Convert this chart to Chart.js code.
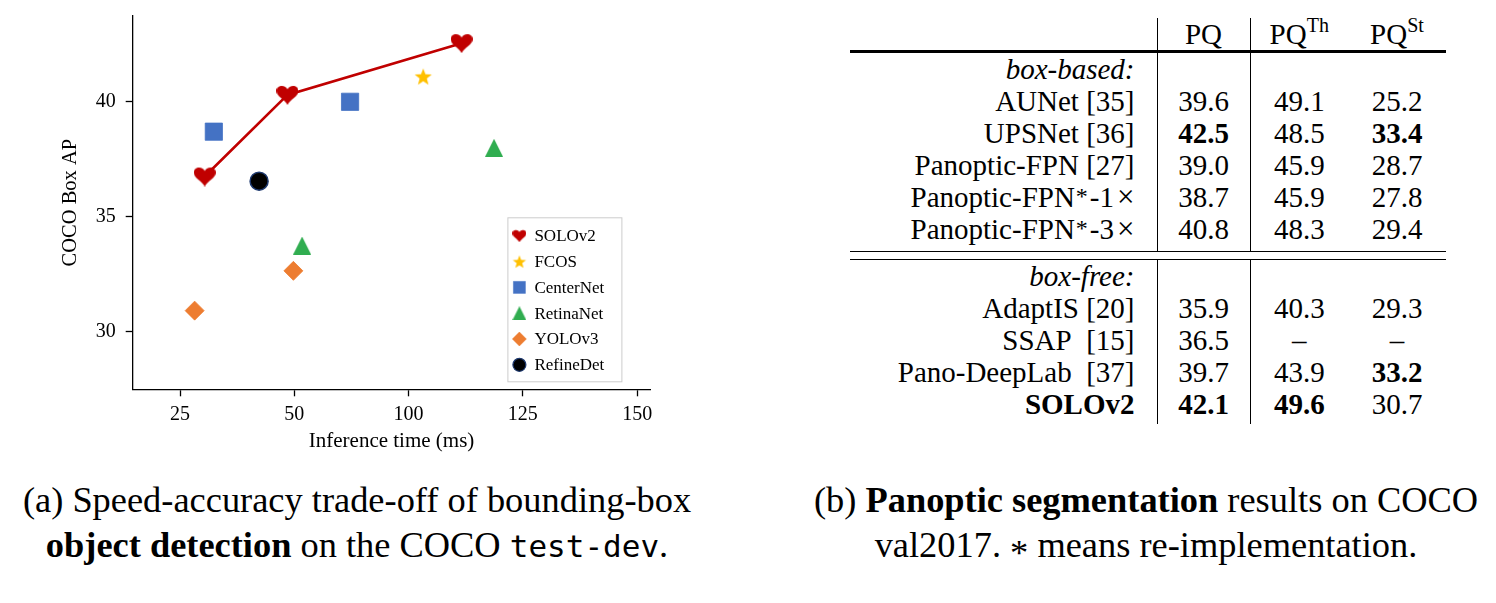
<!DOCTYPE html>
<html>
<head>
<meta charset="utf-8">
<script src="https://cdn.jsdelivr.net/npm/chart.js@4.4.1/dist/chart.umd.min.js"></script>
<style>
body { margin: 0; background: #fff; width: 1496px; height: 603px; overflow: hidden; position: relative;
       font-family: "Liberation Serif", "Times New Roman", serif; color: #000; }
#chartBox { position: absolute; left: 0; top: 0; width: 700px; height: 470px; }
.cap { position: absolute; top: 478px; font-size: 36.4px; line-height: 45px; text-align: center; white-space: nowrap; }
#capA { left: 0; width: 714px; }
#capB { left: 790px; width: 712px; }
.mono { font-family: "DejaVu Sans Mono", monospace; font-size: 31px; }
.capAst { vertical-align: -8px; line-height: 0; }
#tbl { position: absolute; left: 850px; top: 18px; border-collapse: collapse; table-layout: fixed;
       width: 596px; font-size: 29px; }
#tbl td { padding: 0; height: 32px; line-height: 32px; vertical-align: top; white-space: nowrap; }
#tbl td.c0 { text-align: right; padding-right: 22px; border-right: 1.3px solid #000; }
#tbl td.c1 { text-align: center; border-right: 1.3px solid #000; }
#tbl td.c2, #tbl td.c3 { text-align: center; }
#tbl tr.head td { border-bottom: 3px solid #000; }
#tbl tr.groupEnd td { height: 38px; border-bottom: 1.3px solid #000; }
#tbl tr.gap td { height: 6.5px; line-height: 0; border-right: none; border-bottom: 1.3px solid #000; }
#tbl tr.last td { height: 36px; }
.sup { font-size: 20px; vertical-align: 12px; line-height: 0; }
.ast { font-size: 24px; vertical-align: 3px; line-height: 0; padding: 0 2px 0 1px; }
.times { font-size: 31px; padding-left: 3px; }
</style>
</head>
<body>
<div id="chartBox"><canvas id="myChart" width="700" height="470"></canvas></div>
<table id="tbl"></table>
<div class="cap" id="capA">(a) Speed-accuracy trade-off of bounding-box<br><b>object detection</b> on the COCO <span class="mono">test-dev</span>.</div>
<div class="cap" id="capB">(b) <b>Panoptic segmentation</b> results on COCO<br>val2017. <span class="capAst">*</span> means re-implementation.</div>
<script>
// x positions are on the plot's evenly spaced axis; its tick labels read 25, 50, 100, 125, 150
var xTickValues = [25, 50, 75, 100, 125];
var xTickLabels = ['25', '50', '100', '125', '150'];
var yTickValues = [30, 35, 40];

var methods = ['SOLOv2', 'FCOS', 'CenterNet', 'RetinaNet', 'YOLOv3', 'RefineDet'];
var solov2X = [30.4, 48.5, 86.6];
var solov2Y = [36.75, 40.3, 42.55];
var fcosX = [78.2];
var fcosY = [41.1];
var centernetX = [32.4, 62.2];
var centernetY = [38.7, 40.0];
var retinanetX = [51.7, 93.7];
var retinanetY = [33.75, 38.0];
var yolov3X = [28.2, 49.8];
var yolov3Y = [30.92, 32.65];
var refinedetX = [42.3];
var refinedetY = [36.55];

// table (b)
var tableMethods = ['AUNet [35]', 'UPSNet [36]', 'Panoptic-FPN [27]', 'Panoptic-FPN*-1×', 'Panoptic-FPN*-3×',
                    'AdaptIS [20]', 'SSAP  [15]', 'Pano-DeepLab  [37]', 'SOLOv2'];
var pq   = ['39.6', '42.5', '39.0', '38.7', '40.8', '35.9', '36.5', '39.7', '42.1'];
var pqTh = ['49.1', '48.5', '45.9', '45.9', '48.3', '40.3', '–', '43.9', '49.6'];
var pqSt = ['25.2', '33.4', '28.7', '27.8', '29.4', '29.3', '–', '33.2', '30.7'];
// row-column, column 0 = method, 1 = PQ, 2 = PQ^Th, 3 = PQ^St
var boldCells = ['1-1', '1-3', '7-3', '8-0', '8-1', '8-2'];

var serif = '"Liberation Serif", "Times New Roman", serif';

function toPoints(xs, ys) {
    var pts = [];
    for (var i = 0; i < xs.length; i++) pts.push({x: xs[i], y: ys[i]});
    return pts;
}

function heartImage(w, h, color) {
    var c = document.createElement('canvas');
    c.width = w; c.height = h;
    var g = c.getContext('2d');
    g.fillStyle = color;
    g.beginPath();
    g.moveTo(w / 2, h * 0.22);
    g.bezierCurveTo(w * 0.42, -h * 0.02, 0, -h * 0.02, 0, h * 0.3);
    g.bezierCurveTo(0, h * 0.58, w * 0.38, h * 0.72, w / 2, h);
    g.bezierCurveTo(w * 0.62, h * 0.72, w, h * 0.58, w, h * 0.3);
    g.bezierCurveTo(w, -h * 0.02, w * 0.58, -h * 0.02, w / 2, h * 0.22);
    g.fill();
    return c;
}

function starImage(r, color) {
    var c = document.createElement('canvas');
    c.width = c.height = Math.ceil(r * 2 + 2);
    var g = c.getContext('2d');
    var cx = c.width / 2, cy = c.height / 2 + r * 0.1;
    g.fillStyle = color;
    g.beginPath();
    for (var i = 0; i < 10; i++) {
        var rr = i % 2 === 0 ? r : r * 0.42;
        var a = -Math.PI / 2 + i * Math.PI / 5;
        g.lineTo(cx + rr * Math.cos(a), cy + rr * Math.sin(a));
    }
    g.closePath();
    g.fill();
    return c;
}

// matplotlib style '^': as wide as it is tall
function triangleImage(s, color) {
    var c = document.createElement('canvas');
    c.width = c.height = s;
    var g = c.getContext('2d');
    g.fillStyle = color;
    g.beginPath();
    g.moveTo(s / 2, 0);
    g.lineTo(s, s);
    g.lineTo(0, s);
    g.closePath();
    g.fill();
    return c;
}

var red = '#c00000', gold = '#ffc000', blue = '#4472c4', green = '#30ad50', orange = '#ed7d31', navy = '#1f3a70';

var styles = [
    {point: heartImage(22, 20, red), legend: heartImage(14, 13, red), fill: red, stroke: red, radius: 10, lr: 7},
    {point: starImage(9, gold), legend: starImage(7, gold), fill: gold, stroke: gold, radius: 9, lr: 7},
    {point: 'rect', legend: 'rect', fill: blue, stroke: blue, radius: 12.2, lr: 8.5},
    {point: triangleImage(18, green), legend: triangleImage(14, green), fill: green, stroke: green, radius: 9, lr: 7},
    {point: 'rectRot', legend: 'rectRot', fill: orange, stroke: orange, radius: 9.5, lr: 7},
    {point: 'circle', legend: 'circle', fill: '#000', stroke: navy, radius: 9, lr: 6.5}
];

var xs = [solov2X, fcosX, centernetX, retinanetX, yolov3X, refinedetX];
var ys = [solov2Y, fcosY, centernetY, retinanetY, yolov3Y, refinedetY];

var datasets = [];
for (var i = 0; i < methods.length; i++) {
    datasets.push({
        label: methods[i],
        data: toPoints(xs[i], ys[i]),
        showLine: i === 0,
        borderColor: i === 0 ? red : styles[i].stroke,
        borderWidth: i === 0 ? 2.6 : 1,
        pointStyle: styles[i].point,
        pointRadius: styles[i].radius,
        pointHoverRadius: styles[i].radius,
        pointBackgroundColor: styles[i].fill,
        pointBorderColor: styles[i].stroke,
        pointBorderWidth: i === 5 ? 1.5 : 0.8
    });
}

var boxLegend = {
    id: 'boxLegend',
    afterDatasetsDraw: function (chart) {
        var ctx = chart.ctx, area = chart.chartArea;
        var w = 114, h = 164;
        var left = area.right - 29 - w, top = area.bottom - 8 - h;
        ctx.save();
        ctx.fillStyle = 'rgba(255,255,255,0.8)';
        ctx.fillRect(left, top, w, h);
        ctx.strokeStyle = '#cccccc';
        ctx.lineWidth = 1;
        ctx.strokeRect(left + 0.5, top + 0.5, w, h);
        ctx.font = '17px ' + serif;
        ctx.textBaseline = 'middle';
        for (var i = 0; i < methods.length; i++) {
            var y = top + 18.5 + i * 25.8;
            var s = styles[i];
            ctx.fillStyle = s.fill;
            ctx.strokeStyle = s.stroke;
            ctx.lineWidth = i === 5 ? 1.2 : 0.5;
            Chart.helpers.drawPoint(ctx, {pointStyle: s.legend, radius: s.lr, rotation: 0, borderWidth: ctx.lineWidth}, left + 12, y);
            ctx.fillStyle = '#000';
            ctx.fillText(methods[i], left + 27, y + 1);
        }
        ctx.restore();
    }
};

function createChart() {
    var ctx = document.getElementById('myChart').getContext('2d');
    new Chart(ctx, {
        type: 'scatter',
        data: {datasets: datasets},
        plugins: [boxLegend],
        options: {
            responsive: false,
            animation: false,
            layout: {padding: {left: 54, top: 16, right: 49.6, bottom: 12}},
            plugins: {legend: {display: false}, tooltip: {enabled: false}},
            scales: {
                x: {
                    type: 'linear', min: 14.65, max: 127.9,
                    afterBuildTicks: function (s) { s.ticks = xTickValues.map(function (v) { return {value: v}; }); },
                    afterFit: function (s) { s.height = 68.7; s.paddingLeft = 0; s.paddingRight = 0; },
                    ticks: {
                        callback: function (v, idx) { return xTickLabels[idx]; },
                        font: {family: serif, size: 20}, color: '#000', padding: 6, maxRotation: 0
                    },
                    grid: {drawOnChartArea: false, tickLength: 7, tickColor: '#000', tickWidth: 1.3},
                    border: {color: '#000', width: 1.3},
                    title: {display: true, text: 'Inference time (ms)', color: '#000', font: {family: serif, size: 21}, padding: 4}
                },
                y: {
                    type: 'linear', min: 27.5, max: 43.73,
                    afterBuildTicks: function (s) { s.ticks = yTickValues.map(function (v) { return {value: v}; }); },
                    afterFit: function (s) { s.width = 78.7; s.paddingTop = 0; s.paddingBottom = 0; },
                    ticks: {font: {family: serif, size: 20}, color: '#000', padding: 10},
                    grid: {drawOnChartArea: false, tickLength: 7, tickColor: '#000', tickWidth: 1.3},
                    border: {color: '#000', width: 1.3},
                    title: {display: true, text: 'COCO Box AP', color: '#000', font: {family: serif, size: 20.5}, padding: 4}
                }
            }
        }
    });
}

function cellHtml(text) {
    return text.replace(/\*/g, '<span class="ast">*</span>')
               .replace(/×/g, '<span class="times">×</span>')
               .replace(/  /g, '&nbsp; ');
}

function buildTable() {
    var t = document.getElementById('tbl');
    var html = '<colgroup><col style="width:307px"><col style="width:93px"><col style="width:98px"><col style="width:98px"></colgroup>';
    html += '<tr class="head"><td class="c0"></td><td class="c1">PQ</td><td class="c2">PQ<span class="sup">Th</span></td><td class="c3">PQ<span class="sup">St</span></td></tr>';
    var rowsHtml = function (from, to, groupLabel, endClass) {
        var s = '<tr><td class="c0"><i>' + groupLabel + '</i></td><td class="c1"></td><td class="c2"></td><td class="c3"></td></tr>';
        for (var r = from; r < to; r++) {
            var cols = [cellHtml(tableMethods[r]), pq[r], pqTh[r], pqSt[r]];
            var cls = r === to - 1 ? ' class="' + endClass + '"' : '';
            s += '<tr' + cls + '>';
            for (var c = 0; c < 4; c++) {
                var v = cols[c];
                var b = boldCells.indexOf(r + '-' + c) >= 0;
                s += '<td class="c' + c + '">' + (b ? '<b>' + v + '</b>' : v) + '</td>';
            }
            s += '</tr>';
        }
        return s;
    };
    html += rowsHtml(0, 5, 'box-based:', 'groupEnd');
    html += '<tr class="gap"><td></td><td></td><td></td><td></td></tr>';
    html += rowsHtml(5, 9, 'box-free:', 'last');
    t.innerHTML = html;
}

buildTable();
createChart();
</script>
</body>
</html>
